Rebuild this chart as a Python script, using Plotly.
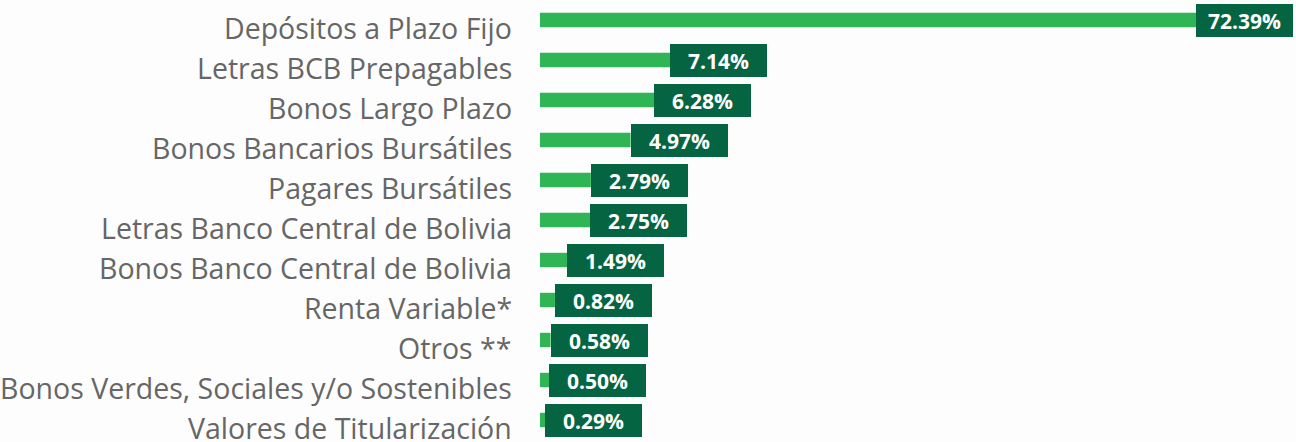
import plotly.graph_objects as go

categories = [
    "Depósitos a Plazo Fijo",
    "Letras BCB Prepagables",
    "Bonos Largo Plazo",
    "Bonos Bancarios Bursátiles",
    "Pagares Bursátiles",
    "Letras Banco Central de Bolivia",
    "Bonos Banco Central de Bolivia",
    "Renta Variable*",
    "Otros **",
    "Bonos Verdes, Sociales y/o Sostenibles",
    "Valores de Titularización",
]
values = [72.39, 7.14, 6.28, 4.97, 2.79, 2.75, 1.49, 0.82, 0.58, 0.50, 0.29]
value_labels = [f"{v:.2f}%" for v in values]

BAR_GREEN = "#2fb554"
BOX_GREEN = "#056543"
TEXT_GRAY = "#666666"
X_MAX = 36  # axis is truncated; the largest bar runs past the plot edge

fig = go.Figure()
fig.add_trace(go.Bar(
    x=values,
    y=categories,
    orientation="h",
    marker=dict(color=BAR_GREEN, line=dict(width=0)),
    width=0.36,
    hoverinfo="x+y",
))

annotations = []
for cat, v, lab in zip(categories, values, value_labels):
    annotations.append(dict(
        x=min(v, X_MAX), y=cat, xref="x", yref="y",
        xanchor="left", yanchor="middle",
        text=f"<b>{lab}</b>", showarrow=False,
        font=dict(family="Open Sans", size=21, color="white"),
        bgcolor=BOX_GREEN, borderwidth=0, borderpad=1,
        width=95, height=31, align="center", valign="middle",
    ))
    annotations.append(dict(
        x=0, y=cat, xref="paper", yref="y",
        xanchor="right", yanchor="middle", xshift=-26, yshift=-8,
        text=cat, showarrow=False,
        font=dict(family="Open Sans", size=28.5, color=TEXT_GRAY),
    ))

n = len(categories)
fig.update_layout(
    width=1296, height=442,
    margin=dict(l=540, r=100, t=0, b=2),
    paper_bgcolor="#fdfdfd",
    plot_bgcolor="rgba(0,0,0,0)",
    showlegend=False,
    annotations=annotations,
    xaxis=dict(range=[0, X_MAX], visible=False, showgrid=False, zeroline=False, fixedrange=True),
    yaxis=dict(range=[n - 0.5, -0.5], showticklabels=False, showgrid=False,
               zeroline=False, ticks="", showline=False, fixedrange=True),
)

fig.write_html(
    "out.html",
    config={"displayModeBar": False},
    post_script="document.body.style.margin='0';document.body.style.overflow='hidden';",
)
